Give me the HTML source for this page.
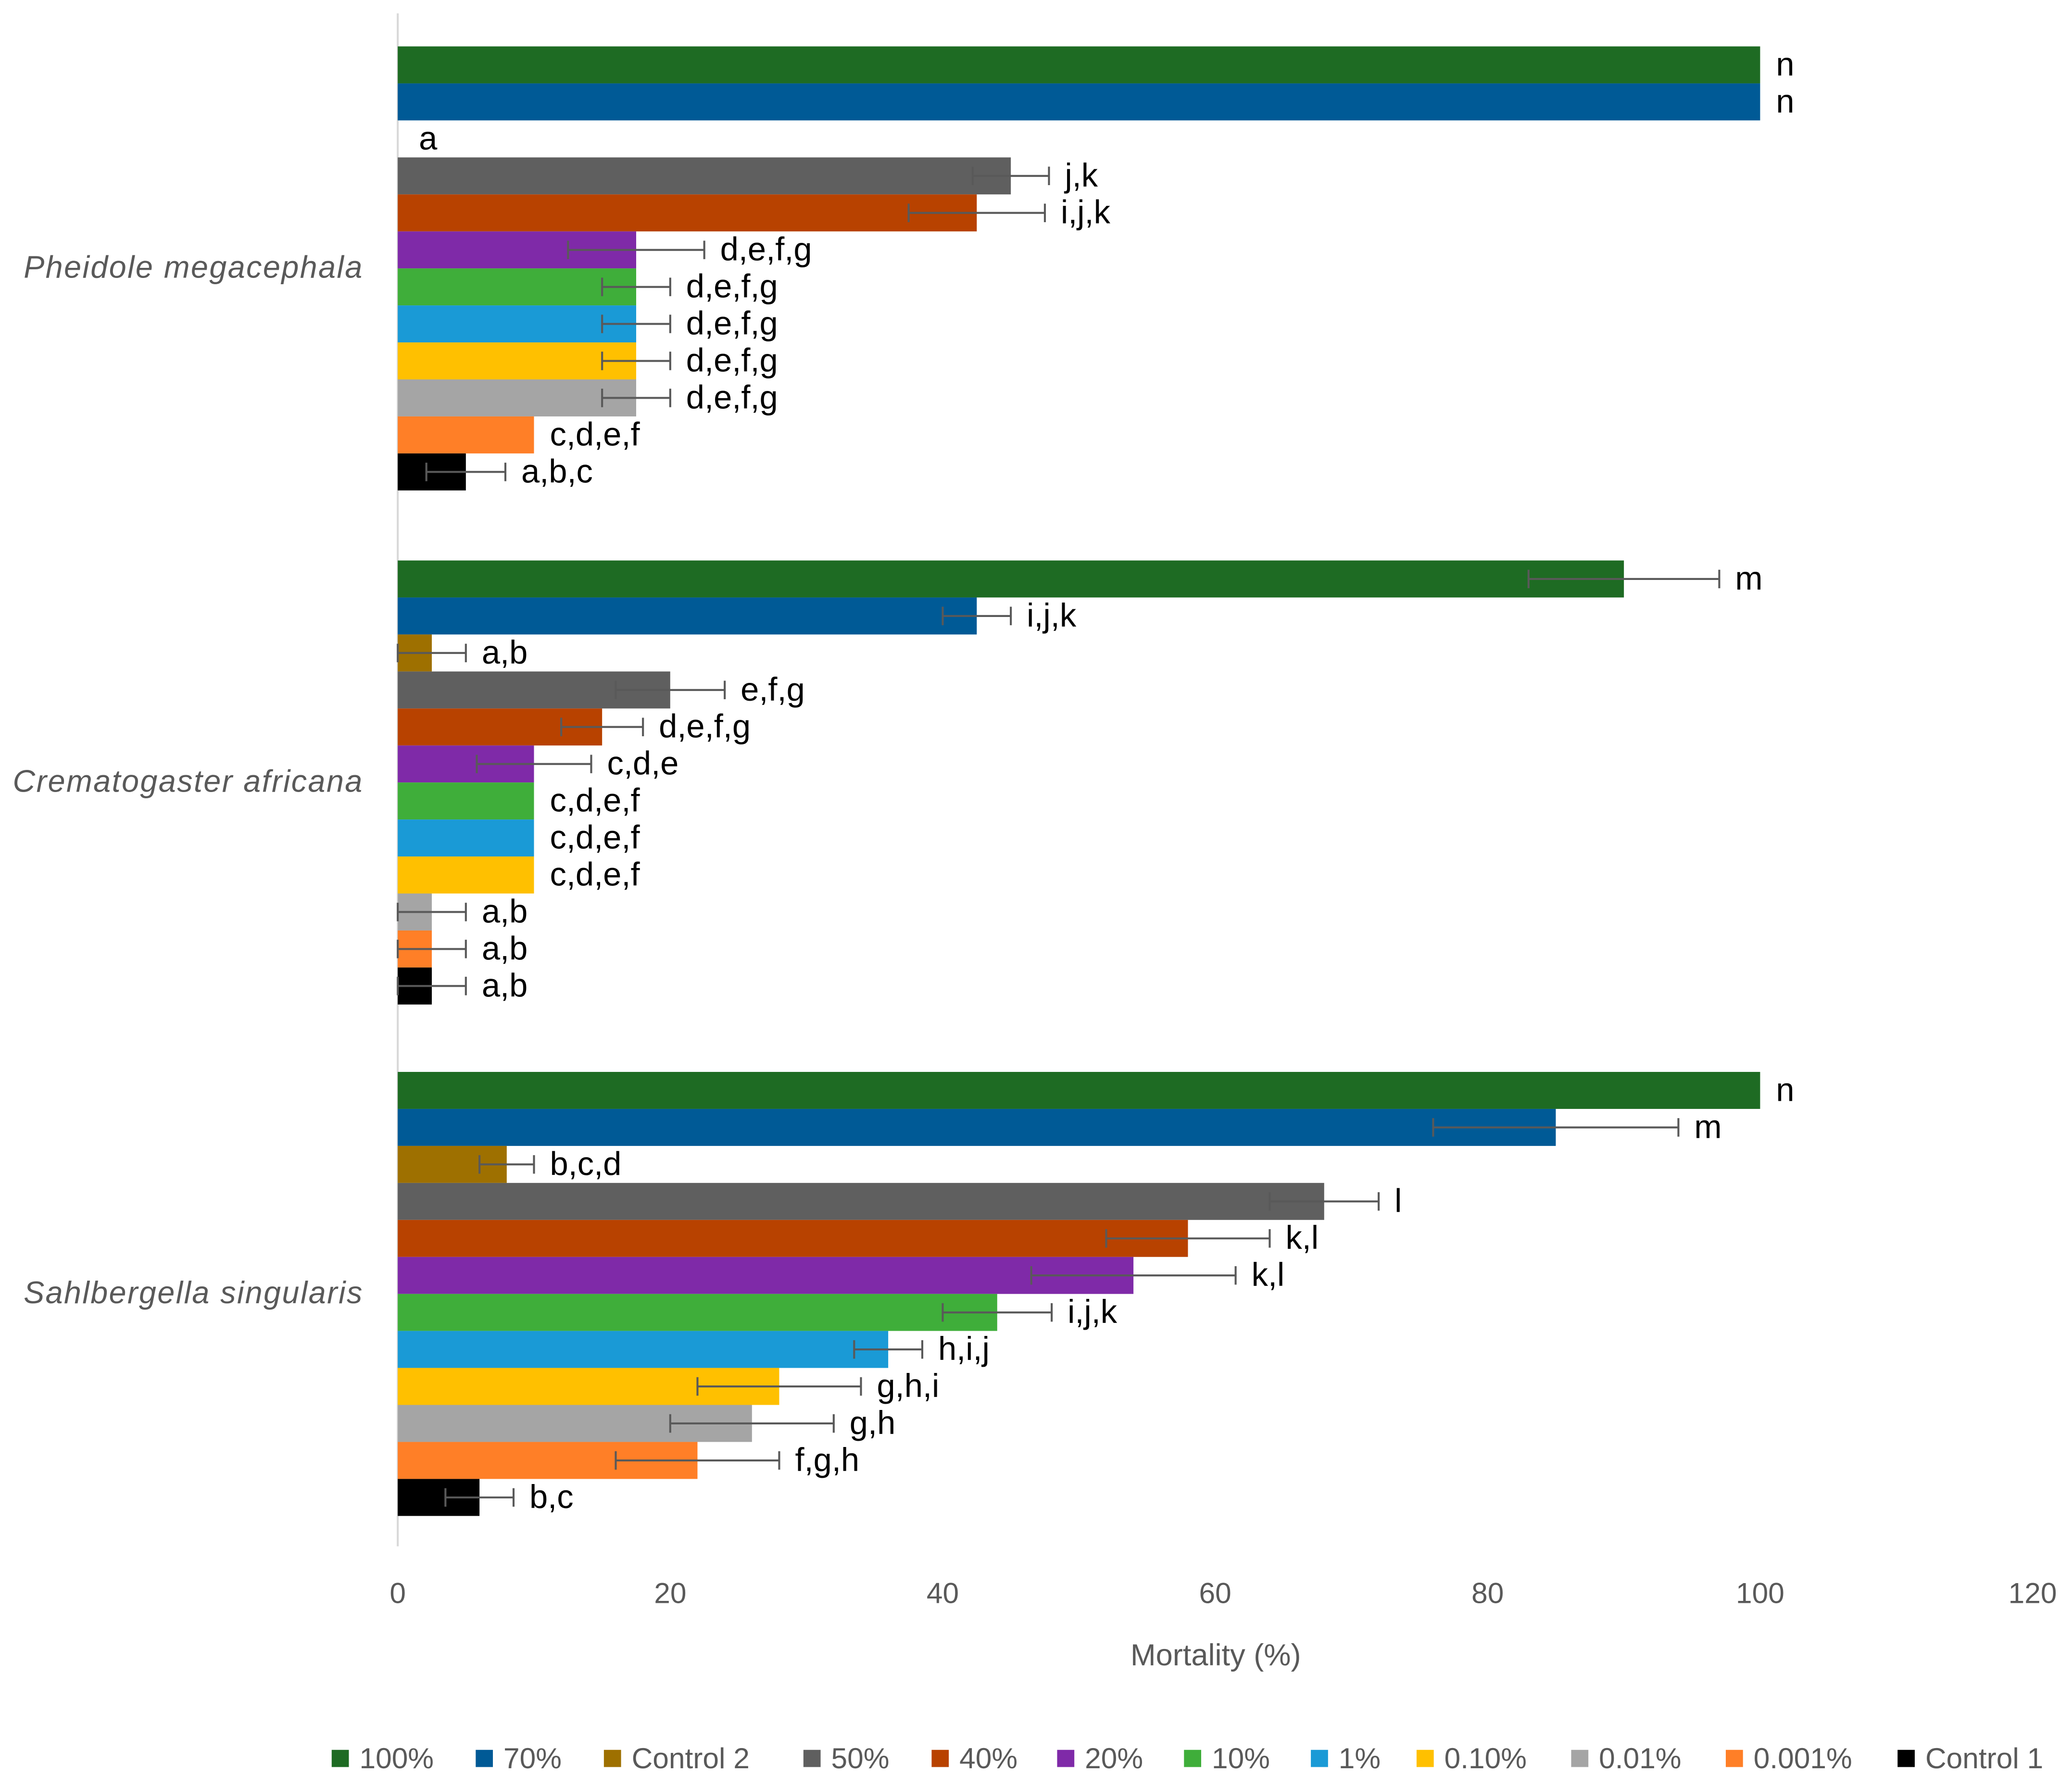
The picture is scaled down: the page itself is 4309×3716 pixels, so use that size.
<!DOCTYPE html>
<html><head><meta charset="utf-8"><style>
html,body{margin:0;padding:0;background:#fff;}
svg{display:block;font-family:"Liberation Sans",Arial,sans-serif;}
</style></head><body>
<svg id="chart" width="4309" height="3716" viewBox="0 0 1568 1352" xmlns="http://www.w3.org/2000/svg">
<rect x="0" y="0" width="1568" height="1352" fill="#fff"/>
<g id="marks"></g>
</svg>
<script>
const categories = ["Pheidole megacephala","Crematogaster africana","Sahlbergella singularis"];
const seriesNames = ["100%","70%","Control 2","50%","40%","20%","10%","1%","0.10%","0.01%","0.001%","Control 1"];
const seriesColors = ["#1e6b23","#005a96","#9e7000","#5f5f5f","#b84200","#7f2aa8","#3fae3a","#1a9ad6","#ffc000","#a5a5a5","#ff7f27","#000000"];
const valuesPheidole = [100,100,0,45,42.5,17.5,17.5,17.5,17.5,17.5,10,5];
const errorsPheidole = [0,0,0,2.8,5,5,2.5,2.5,2.5,2.5,0,2.9];
const lettersPheidole = ["n","n","a","j,k","i,j,k","d,e,f,g","d,e,f,g","d,e,f,g","d,e,f,g","d,e,f,g","c,d,e,f","a,b,c"];
const valuesCrema = [90,42.5,2.5,20,15,10,10,10,10,2.5,2.5,2.5];
const errorsCrema = [7,2.5,2.5,4,3,4.2,0,0,0,2.5,2.5,2.5];
const lettersCrema = ["m","i,j,k","a,b","e,f,g","d,e,f,g","c,d,e","c,d,e,f","c,d,e,f","c,d,e,f","a,b","a,b","a,b"];
const valuesSahl = [100,85,8,68,58,54,44,36,28,26,22,6];
const errorsSahl = [0,9,2,4,6,7.5,4,2.5,6,6,6,2.5];
const lettersSahl = ["n","m","b,c,d","l","k,l","k,l","i,j,k","h,i,j","g,h,i","g,h","f,g,h","b,c"];
const xTicks = [0,20,40,60,80,100,120];

const groupValues=[valuesPheidole,valuesCrema,valuesSahl];
const groupErrors=[errorsPheidole,errorsCrema,errorsSahl];
const groupLetters=[lettersPheidole,lettersCrema,lettersSahl];

const NS="http://www.w3.org/2000/svg";
const g=document.getElementById("marks");
const x0=301, pxPer=(1332-301)/100;
const xs=v=>x0+v*pxPer;
const groupTop=[35,424,811], barH=28;
const ys=(gi,si)=>groupTop[gi]+si*barH;
function mk(tag,attrs,txt){const e=document.createElementNS(NS,tag);for(const k in attrs)e.setAttribute(k,attrs[k]);if(txt!==undefined)e.textContent=txt;g.appendChild(e);return e;}

let ax=mk("line",{x1:x0,y1:10,x2:x0,y2:1170,stroke:"#d9d9d9","stroke-width":1.5});


xTicks.forEach(t=>{
  const e=mk("text",{x:xs(t),y:1213,"font-size":22,fill:"#595959","text-anchor":"middle"},String(t));
  
  
});
let tt=mk("text",{x:920,y:1260,"font-size":23,fill:"#595959","text-anchor":"middle"},"Mortality (%)");



categories.forEach((c,gi)=>{
  const e=mk("text",{x:275,y:groupTop[gi]+barH*6+7,"font-size":23.5,fill:"#595959","text-anchor":"end","font-style":"italic","letter-spacing":"0.9"},c);
  
  
  groupValues[gi].forEach((v,si)=>{
    const y=ys(gi,si);
    if(v>0){
      const r=mk("rect",{x:x0,y:y,width:xs(v)-x0,height:barH,fill:seriesColors[si]});
      
      
    }
    const err=groupErrors[gi][si];
    const cy=y+barH/2;
    if(err>0){
      const a=xs(v-err),b=xs(v+err);
      const l=mk("path",{d:`M${a},${cy}H${b}M${a},${cy-7}V${cy+7}M${b},${cy-7}V${cy+7}`,stroke:"#595959","stroke-width":1.5,fill:"none"});
      
      
    }
    const lx=(v===0?xs(v)+16:xs(v+err)+12);
    const t=mk("text",{x:lx,y:cy+8,"font-size":25,fill:"#000"},groupLetters[gi][si]);
    
    
  });
});

const legendX=[251,360,457,608,705,800,896,992,1072,1189,1306,1436];
seriesNames.forEach((n,i)=>{
  const r=mk("rect",{x:legendX[i],y:1324,width:13,height:13,fill:seriesColors[i]});
  
  
  const t=mk("text",{x:legendX[i]+21,y:1338,"font-size":22,fill:"#595959"},n);
  
  
});
</script>
</body></html>
